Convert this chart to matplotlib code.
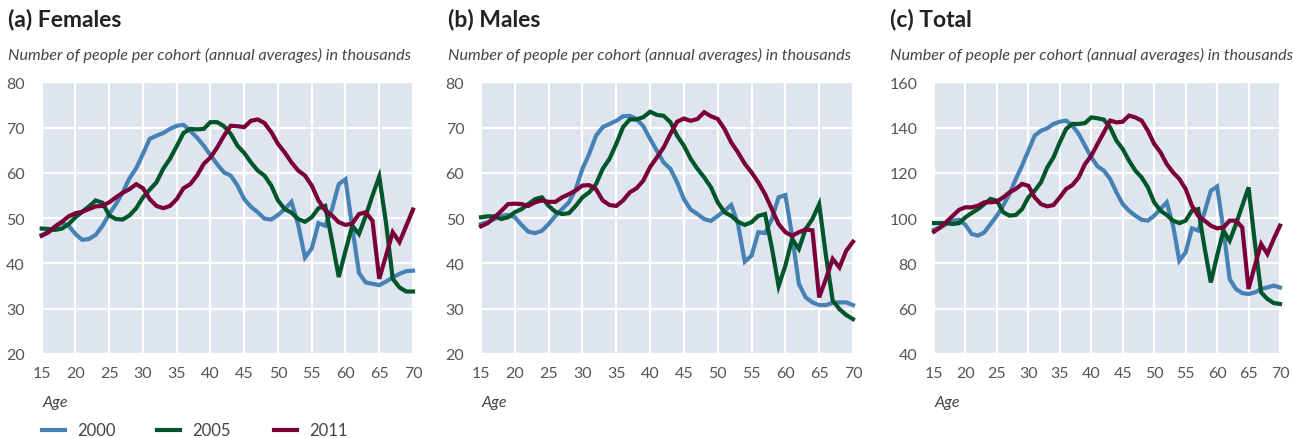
import matplotlib
matplotlib.use("Agg")
import matplotlib.pyplot as plt
from matplotlib.lines import Line2D

plt.rcParams['font.family'] = ['Lato', 'DejaVu Sans']

ages = list(range(15, 71))

fem_2000 = [46.3, 46.9, 48.0, 49.0, 48.3, 46.5, 45.2, 45.4, 46.3, 48.3, 50.9, 53.1, 55.7, 58.8, 61.0,
            64.2, 67.5, 68.2, 68.8, 69.7, 70.4, 70.6, 69.3, 67.8, 66.0, 63.9, 61.9, 60.1, 59.4, 57.2,
            54.2, 52.5, 51.3, 49.9, 49.7, 50.7, 52.0, 53.6, 48.5, 41.3, 43.3, 48.9, 48.3, 52.0, 57.5,
            58.6, 48.0, 37.9, 35.8, 35.5, 35.2, 36.0, 36.9, 37.7, 38.3, 38.4]
fem_2005 = [47.7, 47.6, 47.4, 47.7, 48.7, 50.2, 51.4, 52.6, 53.9, 53.4, 50.6, 49.8, 49.7, 50.6, 52.2,
            54.6, 56.3, 57.9, 60.9, 63.1, 65.9, 68.8, 69.7, 69.6, 69.7, 71.2, 71.2, 70.3, 68.6, 66.0,
            64.4, 62.3, 60.5, 59.4, 57.2, 53.9, 52.0, 51.2, 49.8, 49.2, 50.2, 52.2, 52.7, 45.0, 37.0,
            42.8, 48.3, 46.5, 50.5, 55.0, 59.2, 49.0, 36.6, 34.7, 33.8, 33.8]
fem_2011 = [46.1, 46.9, 48.2, 49.2, 50.4, 51.1, 51.4, 52.0, 52.6, 52.7, 53.5, 54.6, 55.6, 56.4, 57.5,
            56.6, 54.2, 52.7, 52.2, 52.7, 54.2, 56.6, 57.5, 59.4, 62.0, 63.4, 65.6, 68.2, 70.4, 70.3,
            70.1, 71.5, 71.8, 71.0, 69.0, 66.4, 64.5, 62.3, 60.5, 59.4, 57.2, 53.9, 51.7, 50.6, 49.1,
            48.5, 48.8, 50.9, 51.3, 49.4, 36.6, 41.7, 46.9, 44.7, 48.3, 51.9]

male_2000 = [48.7, 49.1, 49.8, 50.5, 50.7, 50.2, 48.5, 47.0, 46.7, 47.2, 48.7, 50.5, 52.0, 53.5, 56.4,
             60.9, 64.2, 68.2, 70.1, 70.8, 71.5, 72.5, 72.6, 71.9, 70.3, 67.5, 64.9, 62.3, 60.9, 57.9,
             54.2, 51.9, 50.9, 49.8, 49.4, 50.5, 51.6, 52.9, 48.7, 40.4, 41.7, 46.9, 46.7, 49.8, 54.6,
             55.1, 46.1, 35.5, 32.5, 31.4, 30.8, 30.8, 31.3, 31.4, 31.4, 30.8]
male_2005 = [50.2, 50.4, 50.4, 49.8, 50.2, 51.3, 52.0, 53.1, 54.2, 54.6, 52.7, 51.4, 50.9, 51.1, 52.7,
             54.6, 55.7, 57.5, 60.9, 63.1, 66.4, 70.1, 71.8, 71.8, 72.3, 73.5, 72.8, 72.6, 71.2, 68.2,
             66.0, 63.1, 60.9, 59.0, 56.8, 53.5, 51.3, 50.5, 49.2, 48.5, 49.1, 50.5, 50.9, 43.5, 35.0,
             39.5, 45.4, 43.2, 47.6, 49.8, 53.1, 41.7, 31.8, 29.9, 28.6, 27.7]
male_2011 = [48.2, 48.9, 50.2, 51.6, 53.1, 53.2, 53.1, 52.7, 53.5, 53.9, 53.6, 53.6, 54.6, 55.3, 56.1,
             57.2, 57.3, 56.4, 53.9, 52.9, 52.7, 53.9, 55.7, 56.6, 58.3, 61.3, 63.4, 65.6, 68.6, 71.3,
             72.0, 71.5, 71.9, 73.4, 72.5, 71.9, 69.7, 66.7, 64.5, 62.0, 60.1, 57.9, 55.3, 52.0, 48.7,
             46.9, 46.1, 46.9, 47.5, 47.3, 32.5, 36.6, 41.0, 39.1, 42.8, 44.8]

tot_2000 = [94.9, 95.9, 97.4, 98.9, 99.3, 97.0, 93.0, 92.3, 93.7, 97.4, 101.1, 105.5, 110.7, 117.3, 123.2,
            129.8, 136.4, 138.6, 139.7, 141.6, 142.6, 143.1, 140.9, 137.2, 132.0, 126.9, 122.9, 121.0, 117.3, 111.4,
            106.2, 103.3, 101.1, 99.3, 98.9, 101.1, 104.0, 107.0, 96.7, 81.2, 84.9, 95.5, 94.5, 102.6, 112.1,
            114.0, 95.2, 73.1, 68.7, 66.9, 66.5, 67.2, 68.7, 69.4, 70.2, 69.4]
tot_2005 = [97.8, 97.8, 97.8, 97.4, 97.8, 100.4, 102.3, 104.0, 106.2, 108.5, 107.7, 102.6, 101.1, 101.4, 104.0,
            109.2, 112.1, 115.8, 122.4, 126.9, 133.5, 139.4, 141.6, 141.6, 142.0, 144.5, 144.1, 143.5, 140.1, 134.2,
            130.5, 125.4, 121.0, 118.0, 113.6, 107.0, 103.3, 101.4, 98.9, 97.8, 98.9, 103.3, 104.0, 87.1, 71.6,
            83.4, 94.5, 90.0, 97.4, 105.5, 113.6, 89.3, 67.2, 64.3, 62.5, 62.1]
tot_2011 = [94.0, 95.9, 98.4, 101.1, 103.7, 104.8, 104.8, 105.5, 107.0, 107.0, 107.3, 109.2, 111.4, 112.9, 115.1,
            114.3, 109.2, 106.2, 105.2, 105.8, 109.2, 112.9, 114.6, 118.0, 123.9, 127.6, 132.8, 137.9, 143.1, 142.3,
            142.6, 145.3, 144.5, 143.1, 138.6, 132.8, 129.1, 123.9, 120.2, 117.3, 112.9, 105.5, 101.1, 98.9, 96.7,
            95.5, 95.9, 98.9, 98.9, 95.9, 68.7, 79.0, 88.6, 84.2, 90.8, 96.7]

years = ['2000', '2005', '2011']
colors = ['#4682b4', '#00552a', '#7b0038']
titles = ['(a) Females', '(b) Males', '(c) Total']
subtitle = 'Number of people per cohort (annual averages) in thousands'
x_ticks = list(range(15, 71, 5))
y_ranges = [(20, 80, 10), (20, 80, 10), (40, 160, 20)]
panels = [[fem_2000, fem_2005, fem_2011],
          [male_2000, male_2005, male_2011],
          [tot_2000, tot_2005, tot_2011]]

W, H = 1293, 439
fig = plt.figure(figsize=(W / 100, H / 100), dpi=100)
fig.patch.set_facecolor('white')

boxes = [(41.7, 413), (481, 853), (934, 1280)]
top_px, bot_px = 83.3, 355
title_x = [8, 448, 890]
tick_col = '#555555'

for i, (l, r) in enumerate(boxes):
    ax = fig.add_axes([l / W, 1 - bot_px / H, (r - l) / W, (bot_px - top_px) / H])
    ax.set_facecolor('#dfe5ee')
    for s in ax.spines.values():
        s.set_visible(False)
    y0, y1, ys = y_ranges[i]
    ax.set_xlim(15, 70)
    ax.set_ylim(y0, y1)
    ax.set_xticks(x_ticks)
    ax.set_yticks(list(range(y0, y1 + 1, ys)))
    ax.grid(True, color='white', linewidth=1.6)
    ax.set_axisbelow(True)
    ax.tick_params(length=0, labelsize=11.5, colors=tick_col, pad=9)
    ax.tick_params(axis='y', pad=12)
    for series, c in zip(panels[i], colors):
        ax.plot(ages, series, color=c, linewidth=3.0, solid_joinstyle='miter', clip_on=False)
    fig.text(title_x[i] / W, 1 - 20 / H, titles[i], fontsize=16.5, fontweight='bold',
             color='#222222', va='center', ha='left')
    fig.text(title_x[i] / W, 1 - 55 / H, subtitle, fontsize=11.6, style='italic',
             color='#444444', va='center', ha='left')
    fig.text((l + 1) / W, 1 - 403 / H, 'Age', fontsize=11.5, style='italic',
             color='#444444', va='center', ha='left')

# legend
leg_y = 1 - 431 / H
leg_x = [42, 157, 274]
for xs, c, lab in zip(leg_x, colors, years):
    fig.add_artist(Line2D([xs / W, (xs + 23) / W], [leg_y, leg_y], color=c, linewidth=3.0,
                          transform=fig.transFigure))
    fig.text((xs + 35) / W, leg_y, lab, fontsize=12, color='#444444', va='center', ha='left')

fig.savefig('out.png', dpi=100, facecolor='white')
